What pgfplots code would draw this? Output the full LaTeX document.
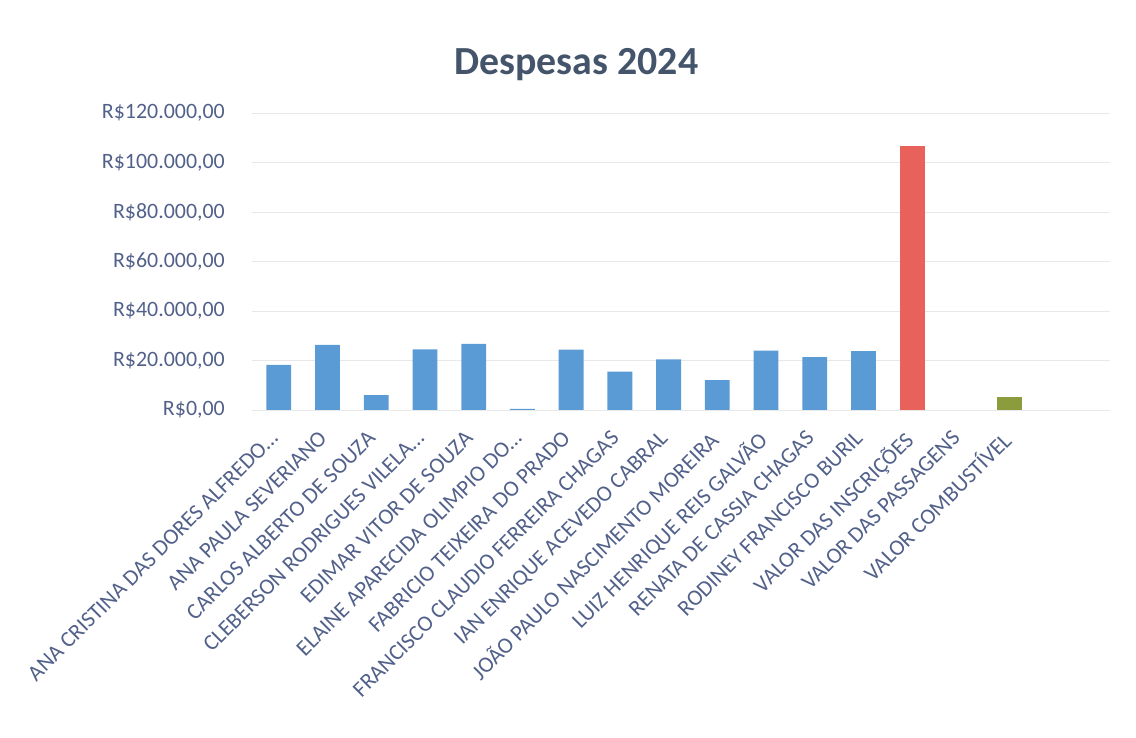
\documentclass[border=0pt]{standalone}
\usepackage{fontspec}
\setmainfont{Carlito}
\usepackage{pgfplots}
\pgfplotsset{compat=1.18}

\definecolor{txtcol}{HTML}{52618A}
\definecolor{titlecol}{HTML}{44546A}
\definecolor{barblue}{HTML}{5B9BD5}
\definecolor{barred}{HTML}{E8615A}
\definecolor{bargreen}{HTML}{8A9C3C}
\definecolor{gridcol}{HTML}{E8E8E8}

\begin{document}
\begin{tikzpicture}[x=1bp,y=1bp]
  \begin{axis}[
    at={(252bp,328bp)}, anchor=south west,
    scale only axis, width=858bp, height=297bp,
    ybar, bar width=0.51, bar shift=0pt,
    xmin=-0.55, xmax=17.06, ymin=0, ymax=120000,
    scaled y ticks=false,
    axis line style={draw=none}, major tick length=0pt,
    ymajorgrids, grid style={gridcol, line width=0.8bp},
    xtick={0,1,2,3,4,5,6,7,8,9,10,11,12,13,14,15},
    xticklabels={
      {ANA CRISTINA DAS DORES ALFREDO…},
      {ANA PAULA SEVERIANO},
      {CARLOS ALBERTO DE SOUZA},
      {CLEBERSON RODRIGUES VILELA…},
      {EDIMAR VITOR DE SOUZA},
      {ELAINE APARECIDA OLIMPIO DO…},
      {FABRICIO TEIXEIRA DO PRADO},
      {FRANCISCO CLAUDIO FERREIRA CHAGAS},
      {IAN ENRIQUE ACEVEDO CABRAL},
      {JOÃO PAULO NASCIMENTO MOREIRA},
      {LUIZ HENRIQUE REIS GALVÃO},
      {RENATA DE CASSIA CHAGAS},
      {RODINEY FRANCISCO BURIL},
      {VALOR DAS INSCRIÇÕES},
      {VALOR DAS PASSAGENS},
      {VALOR COMBUSTÍVEL}},
    xticklabel style={xshift=-10bp, yshift=-19bp, rotate=45,
      anchor=north east, text=txtcol,
      font=\fontsize{22.5}{24}\selectfont, inner sep=0pt},
    ytick={0,20000,40000,60000,80000,100000,120000},
    yticklabels={{R\$0,00},{R\$20.000,00},{R\$40.000,00},{R\$60.000,00},
      {R\$80.000,00},{R\$100.000,00},{R\$120.000,00}},
    yticklabel style={anchor=east, text=txtcol,
      font=\fontsize{22}{24}\selectfont, inner sep=0pt, xshift=-27bp},
    title={Despesas 2024},
    title style={at={(axis description cs:0.378,1)}, anchor=base,
      yshift=33bp, text=titlecol, font=\fontsize{40}{44}\selectfont\bfseries},
  ]
    \addplot[fill=barblue, draw=none] coordinates {
      (0,18200) (1,26300) (2,6000) (3,24500) (4,26700) (5,500)
      (6,24400) (7,15500) (8,20500) (9,12100) (10,24000) (11,21400)
      (12,23800)};
    \addplot[fill=barred, draw=none] coordinates {(13,106800)};
    \addplot[fill=bargreen, draw=none] coordinates {(15,5400)};
  \end{axis}
  \pgfresetboundingbox
  \path (0,0) rectangle (1136,738);
\end{tikzpicture}
\end{document}
